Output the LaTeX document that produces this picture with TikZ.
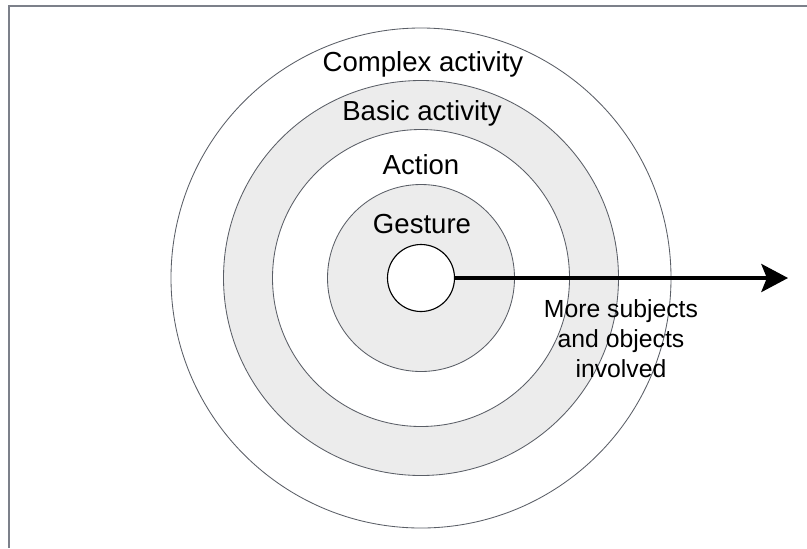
\documentclass[tikz,border=0pt]{standalone}
\usepackage{fontspec}
\setmainfont{Liberation Sans}
\usepackage{xcolor}
\usepackage{tikz}
\usetikzlibrary{shapes,arrows.meta,positioning}
\definecolor{ringline}{HTML}{5A5E66}
\definecolor{ringfill}{HTML}{ECECEC}
\definecolor{framegray}{HTML}{7C808A}

\begin{document}
\begin{tikzpicture}[x=0.025cm, y=-0.025cm,
  ring/.style={circle, draw=ringline, line width=0.6pt, inner sep=0pt},
  level/.style={anchor=base, font=\fontsize{19.6}{23}\selectfont},
  note/.style={align=center, font=\fontsize{17.6}{21.3}\selectfont}]
\useasboundingbox (0,0) rectangle (807,548);
\draw[framegray, line width=1.6pt] (9,548) -- (9,6) -- (807,6);
\node[ring, fill=white, minimum size=500*0.025cm] (complex) at (421,278) {};
\node[ring, fill=ringfill, minimum size=395*0.025cm] (basic) at (421,278) {};
\node[ring, fill=white, minimum size=297*0.025cm] (action) at (421,278) {};
\node[ring, fill=ringfill, minimum size=187*0.025cm] (gesture) at (421,278) {};
\node[ring, draw=black, fill=white, line width=0.8pt, minimum size=67*0.025cm] (core) at (421,278) {};
\node[level] at (423,71) {Complex activity};
\node[level] at (422,120) {Basic activity};
\node[level] at (421,174) {Action};
\node[level] at (422,233) {Gesture};
\coordinate (tip) at (788,278);
\draw[-{Stealth[length=19pt, width=20pt, inset=4pt]}, line width=2.4pt] (core.east) -- (tip);
\node[note] (more) at (621,339) {More subjects\\and objects\\involved};
\end{tikzpicture}
\end{document}
